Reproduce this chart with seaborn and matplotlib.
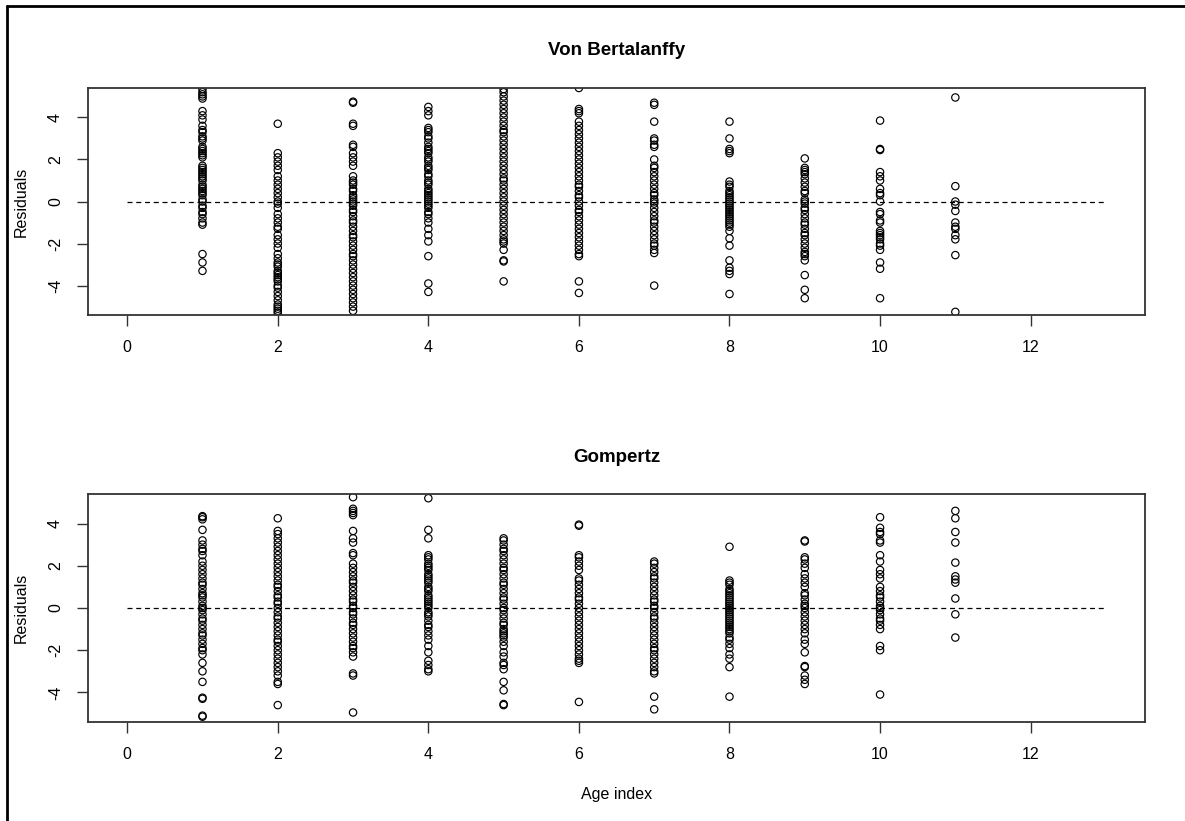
import matplotlib
matplotlib.use('Agg')
import matplotlib.pyplot as plt
from matplotlib.lines import Line2D
import seaborn as sns
import numpy as np
import pandas as pd

# ------------------------------------------
# Residuals by age index
# ------------------------------------------
ages = [1, 2, 3, 4, 5, 6, 7, 8, 9, 10, 11]

vb_resid = {
    1: [5.35, 5.2, 5.1, 5.0, 4.9, 4.3, 4.1, 3.9, 3.6, 3.4, 3.3, 3.1, 3.0, 2.9, 2.6, 2.5,
        2.4, 2.3, 2.2, 2.1, 1.7, 1.6, 1.5, 1.4, 1.3, 1.2, 1.1, 1.0, 0.8, 0.7, 0.6, 0.5,
        0.4, 0.3, 0.1, 0.0, -0.2, -0.3, -0.5, -0.6, -0.8, -1.0, -1.1, -2.5, -2.9, -3.3],
    2: [3.7, 2.3, 2.1, 1.9, 1.7, 1.5, 1.2, 1.0, 0.8, 0.6, 0.4, 0.2, 0.0, -0.1, -0.3, -0.6,
        -0.8, -1.0, -1.2, -1.3, -1.6, -1.8, -2.0, -2.2, -2.5, -2.7, -2.9, -3.0, -3.1, -3.3,
        -3.4, -3.5, -3.6, -3.7, -3.8, -4.0, -4.1, -4.3, -4.5, -4.7, -4.9, -5.0, -5.1, -5.2, -5.3],
    3: [4.75, 4.7, 3.7, 3.6, 2.7, 2.6, 2.3, 2.1, 1.9, 1.7, 1.2, 1.0, 0.9, 0.8, 0.6, 0.5,
        0.3, 0.2, 0.1, 0.0, -0.1, -0.2, -0.4, -0.5, -0.7, -0.9, -1.0, -1.2, -1.4, -1.6,
        -1.7, -1.9, -2.1, -2.3, -2.5, -2.6, -2.8, -3.0, -3.2, -3.4, -3.6, -3.8, -4.0,
        -4.2, -4.4, -4.6, -4.8, -5.0, -5.2],
    4: [4.5, 4.3, 4.1, 3.5, 3.4, 3.3, 3.1, 3.0, 2.8, 2.6, 2.5, 2.4, 2.3, 2.1, 2.0, 1.9,
        1.7, 1.6, 1.5, 1.3, 1.2, 1.0, 0.9, 0.8, 0.6, 0.5, 0.4, 0.3, 0.2, 0.1, 0.0, -0.1,
        -0.2, -0.3, -0.5, -0.6, -0.8, -1.0, -1.3, -1.6, -1.9, -2.6, -3.9, -4.3],
    5: [5.35, 5.2, 5.0, 4.8, 4.6, 4.4, 4.2, 4.0, 3.8, 3.6, 3.4, 3.3, 3.1, 2.9, 2.7, 2.5,
        2.3, 2.1, 1.9, 1.7, 1.5, 1.3, 1.1, 1.0, 0.8, 0.6, 0.4, 0.2, 0.0, -0.2, -0.4, -0.6,
        -0.8, -1.0, -1.2, -1.4, -1.6, -1.8, -1.9, -2.0, -2.3, -2.8, -2.85, -3.8],
    6: [5.4, 4.4, 4.3, 4.2, 3.8, 3.6, 3.4, 3.2, 3.0, 2.8, 2.6, 2.4, 2.2, 2.0, 1.8, 1.6,
        1.4, 1.2, 1.0, 0.8, 0.7, 0.5, 0.3, 0.2, 0.0, -0.2, -0.4, -0.5, -0.7, -0.9, -1.1,
        -1.3, -1.5, -1.7, -1.9, -2.1, -2.3, -2.5, -2.6, -3.8, -4.35],
    7: [4.7, 4.6, 3.8, 3.0, 2.9, 2.7, 2.6, 2.0, 1.7, 1.6, 1.4, 1.2, 1.0, 0.8, 0.6, 0.4,
        0.3, 0.1, 0.0, -0.1, -0.3, -0.5, -0.7, -0.9, -1.0, -1.2, -1.4, -1.6, -1.8, -2.0,
        -2.1, -2.3, -2.45, -4.0],
    8: [3.8, 3.0, 2.5, 2.4, 2.3, 0.95, 0.8, 0.7, 0.5, 0.4, 0.3, 0.2, 0.1, 0.0, -0.1, -0.2,
        -0.3, -0.4, -0.5, -0.6, -0.7, -0.8, -0.9, -1.0, -1.1, -1.2, -1.4, -1.75, -2.1,
        -2.8, -3.15, -3.3, -3.45, -4.4],
    9: [2.05, 1.6, 1.5, 1.4, 1.3, 1.1, 0.9, 0.7, 0.5, 0.4, 0.1, 0.0, -0.1, -0.3, -0.4,
        -0.6, -0.8, -1.0, -1.1, -1.3, -1.5, -1.6, -1.8, -2.0, -2.2, -2.4, -2.5, -2.6, -2.8,
        -3.5, -4.2, -4.6],
    10: [3.85, 2.5, 2.45, 1.4, 1.2, 1.0, 0.6, 0.4, 0.3, 0.0, -0.5, -0.6, -0.9, -1.0, -1.4,
         -1.5, -1.6, -1.7, -1.8, -2.0, -2.1, -2.3, -2.9, -3.2, -4.6],
    11: [4.95, 0.73, 0.0, -0.15, -0.45, -1.0, -1.2, -1.3, -1.6, -1.8, -2.55, -5.25],
}

gomp_resid = {
    1: [4.35, 4.3, 4.2, 3.7, 3.2, 3.0, 2.8, 2.7, 2.5, 2.2, 2.0, 1.8, 1.6, 1.4, 1.2, 1.1,
        0.9, 0.7, 0.6, 0.5, 0.3, 0.1, 0.0, -0.1, -0.3, -0.5, -0.6, -0.8, -1.0, -1.2, -1.3,
        -1.5, -1.7, -1.9, -2.0, -2.2, -2.6, -3.0, -3.5, -4.25, -4.3, -5.1, -5.15],
    2: [4.25, 3.65, 3.5, 3.3, 3.1, 2.9, 2.7, 2.5, 2.3, 2.1, 1.9, 1.7, 1.5, 1.3, 1.1, 1.0,
        0.8, 0.6, 0.5, 0.3, 0.2, 0.0, -0.2, -0.4, -0.5, -0.7, -0.9, -1.1, -1.3, -1.5, -1.6,
        -1.8, -2.0, -2.2, -2.4, -2.6, -2.8, -3.0, -3.2, -3.5, -3.6, -4.6],
    3: [5.25, 4.7, 4.6, 4.5, 4.4, 3.65, 3.3, 3.1, 2.6, 2.5, 2.1, 1.9, 1.7, 1.5, 1.3, 1.2,
        1.0, 0.8, 0.6, 0.4, 0.3, 0.1, 0.0, -0.2, -0.3, -0.5, -0.7, -0.8, -1.0, -1.2, -1.4,
        -1.6, -1.8, -1.9, -2.1, -2.3, -3.1, -3.2, -4.95],
    4: [5.2, 3.7, 3.3, 2.5, 2.4, 2.3, 2.1, 2.0, 1.9, 1.8, 1.6, 1.5, 1.4, 1.3, 1.2, 1.0,
        0.9, 0.8, 0.6, 0.5, 0.4, 0.3, 0.2, 0.1, 0.0, -0.2, -0.3, -0.4, -0.6, -0.8, -0.9,
        -1.1, -1.3, -1.5, -1.8, -2.1, -2.5, -2.7, -2.9, -3.0],
    5: [3.3, 3.2, 3.0, 2.8, 2.7, 2.5, 2.3, 2.1, 1.9, 1.8, 1.6, 1.4, 1.2, 1.1, 0.9, 0.7,
        0.5, 0.4, 0.2, 0.0, -0.1, -0.3, -0.5, -0.7, -0.8, -1.0, -1.1, -1.2, -1.3, -1.4,
        -1.6, -1.8, -2.1, -2.3, -2.6, -2.7, -2.9, -3.5, -3.9, -4.55, -4.6],
    6: [3.95, 3.9, 2.5, 2.4, 2.2, 2.0, 1.8, 1.4, 1.3, 1.1, 0.9, 0.7, 0.5, 0.4, 0.2, 0.0,
        -0.2, -0.4, -0.6, -0.8, -1.0, -1.2, -1.4, -1.6, -1.8, -2.0, -2.2, -2.4, -2.5, -2.6,
        -4.45],
    7: [2.2, 2.1, 1.9, 1.7, 1.5, 1.4, 1.2, 1.0, 0.8, 0.6, 0.4, 0.3, 0.1, 0.0, -0.2, -0.4,
        -0.5, -0.7, -0.9, -1.1, -1.3, -1.5, -1.7, -1.9, -2.0, -2.2, -2.4, -2.6, -2.8, -3.0,
        -3.1, -4.2, -4.8],
    8: [2.9, 1.3, 1.2, 1.1, 0.9, 0.8, 0.7, 0.6, 0.5, 0.4, 0.3, 0.2, 0.1, 0.0, -0.1, -0.2,
        -0.3, -0.4, -0.5, -0.6, -0.7, -0.8, -0.9, -1.0, -1.1, -1.2, -1.4, -1.5, -1.7, -1.9,
        -2.2, -2.4, -2.8, -4.2],
    9: [3.2, 3.15, 2.4, 2.3, 2.1, 1.9, 1.6, 1.4, 1.2, 1.0, 0.7, 0.6, 0.4, 0.2, 0.1, 0.0,
        -0.2, -0.4, -0.6, -0.8, -1.0, -1.2, -1.5, -1.7, -2.1, -2.75, -2.8, -3.2, -3.4, -3.6],
    10: [4.3, 3.8, 3.6, 3.5, 3.2, 3.1, 2.5, 2.2, 1.8, 1.6, 1.4, 1.0, 0.8, 0.6, 0.5, 0.3,
         0.1, 0.0, -0.1, -0.3, -0.5, -0.6, -0.8, -1.0, -1.8, -2.0, -4.1],
    11: [4.6, 4.25, 3.6, 3.1, 2.15, 1.5, 1.35, 1.2, 0.45, -0.3, -1.4],
}

titles = ['Von Bertalanffy', 'Gompertz']
x_ticks = [0, 2, 4, 6, 8, 10, 12]
y_ticks = [-4, -2, 0, 2, 4]
ref_line_end = 13


def to_long(resid):
    rows = [(a, r) for a in ages for r in resid[a]]
    return pd.DataFrame(rows, columns=['age', 'resid'])


sns.set_style('white')
plt.rcParams['font.family'] = ['Liberation Sans', 'DejaVu Sans']
plt.rcParams['text.color'] = 'black'
plt.rcParams['axes.labelcolor'] = 'black'
plt.rcParams['xtick.color'] = 'black'
plt.rcParams['ytick.color'] = 'black'

fig = plt.figure(figsize=(11.85, 8.21), dpi=100)
ax_top = fig.add_axes([0.0743, 0.6163, 0.892, 0.2765])
ax_bot = fig.add_axes([0.0743, 0.1206, 0.892, 0.2777])

for ax, resid, title, tpad in zip([ax_top, ax_bot], [vb_resid, gomp_resid], titles, [24, 23]):
    df = to_long(resid)
    sns.scatterplot(data=df, x='age', y='resid', ax=ax, marker='o', s=28,
                    facecolors='none', edgecolor='black', linewidth=0.85)
    ax.hlines(0, 0, ref_line_end, colors='black', linestyles=(0, (4, 3)), linewidth=0.9)

    ax.set_xlim(-0.52, 13.52)
    ax.set_ylim(-5.4, 5.4)
    ax.set_xticks(x_ticks)
    ax.set_yticks(y_ticks)
    ax.set_yticklabels([str(v) for v in y_ticks], rotation=90, va='center')
    ax.tick_params(axis='both', direction='out', length=8, width=1, color='#333333',
                   labelsize=11.5, pad=10, bottom=True, left=True)
    for sp in ax.spines.values():
        sp.set_color('#333333')
        sp.set_linewidth(1.3)
    ax.set_title(title, fontweight='bold', fontsize=13.5, pad=tpad, color='black')
    ax.set_ylabel('Residuals', fontsize=11.5, labelpad=14)
    ax.set_xlabel('')

ax_bot.set_xlabel('Age index', fontsize=11.5, labelpad=18)

# frame lines around the figure (top and left edges of the original export)
fig.add_artist(Line2D([7 / 1185, 1.0], [1 - 6 / 821, 1 - 6 / 821], color='black', linewidth=2))
fig.add_artist(Line2D([7 / 1185, 7 / 1185], [0.0, 1 - 6 / 821], color='black', linewidth=2))

fig.savefig('out.png', dpi=100)
